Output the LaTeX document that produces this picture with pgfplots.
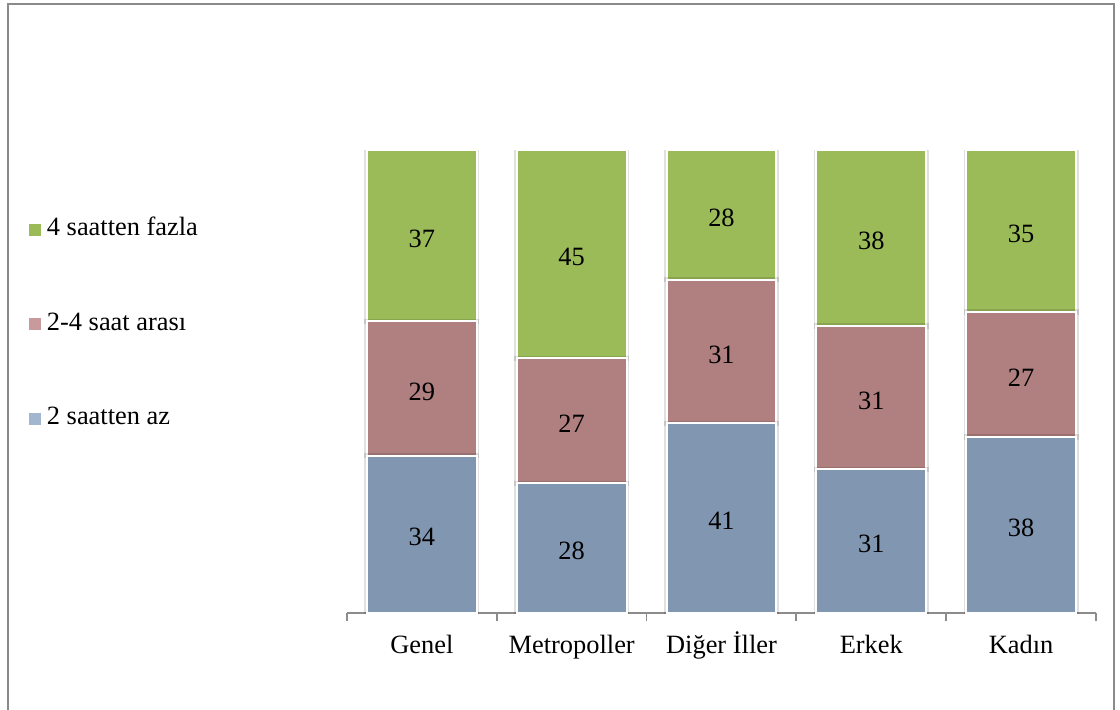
\documentclass[border=0pt]{standalone}
\usepackage{fontspec}
\setmainfont{Liberation Serif}
\usepackage{pgfplots}
\usepackage{pgfplotstable}
\pgfplotsset{compat=1.18}

\definecolor{gBar}{HTML}{9BBB59}
\definecolor{pBar}{HTML}{B07F7F}
\definecolor{bBar}{HTML}{8196B0}
\definecolor{pKey}{HTML}{C99A9B}
\definecolor{bKey}{HTML}{A3B6CF}
\definecolor{frameGray}{HTML}{8A8A8A}
\definecolor{axisGray}{HTML}{8C8C8C}

% daily hours: share of respondents (%), bottom to top
\pgfplotstableread{
x  az  arasi  fazla
0  34  29     37
1  28  27     45
2  41  31     28
3  31  31     38
4  38  27     35
}\hours

\pgfplotsset{
  seg/.style={
    fill=#1, draw=white, line width=1pt,
    preaction={draw=black, draw opacity=0.12, line width=2.6pt},
  },
}

\begin{document}
\fontsize{13.2}{15.8}\selectfont
\begin{tikzpicture}
  \useasboundingbox (0,0) rectangle (560pt,354.5pt);
  \draw[frameGray, line width=1pt] (4pt,-10pt) -- (4pt,352.5pt) -- (557pt,352.5pt) -- (557pt,-10pt);
  \begin{axis}[
    at={(173.5pt,48pt)}, anchor=south west,
    scale only axis, width=374.5pt, height=231.5pt,
    xmin=-0.5, xmax=4.5, ymin=0, ymax=100,
    ybar stacked, bar width=0.734,
    axis x line*=bottom, hide y axis,
    x axis line style={axisGray, line width=0.9pt},
    xtick={0,...,4},
    xticklabels={Genel, Metropoller, Diğer İller, Erkek, Kadın},
    major x tick style={draw=none},
    minor xtick={-0.5,0.5,...,4.5},
    minor x tick style={axisGray, line width=0.9pt},
    minor tick length=4pt,
    tick align=outside,
    xticklabel style={anchor=base, yshift=-16pt},
    point meta=explicit symbolic,
    nodes near coords={\pgfplotspointmeta},
    every node near coord/.append style={anchor=center, text=black, yshift=-1.5pt},
    legend style={draw=none, fill=none, inner sep=0pt, outer sep=0pt,
      at={(-0.4246,0.8534)}, anchor=north west,
      row sep=35.2pt, column sep=3pt,
      nodes={inner sep=0pt, text height=9pt, text depth=3pt}},
    legend cell align=left,
    legend image code/.code={\fill[#1, draw=none] (0pt,-3pt) rectangle (6pt,3pt);},
  ]
    \addplot[seg=bBar, forget plot] table[x=x, y=az, meta=az] {\hours};
    \addplot[seg=pBar, forget plot] table[x=x, y=arasi, meta=arasi] {\hours};
    \addplot[seg=gBar, forget plot] table[x=x, y=fazla, meta=fazla] {\hours};

    \addlegendimage{fill=gBar}
    \addlegendentry{4 saatten fazla}
    \addlegendimage{fill=pKey}
    \addlegendentry{2-4 saat arası}
    \addlegendimage{fill=bKey}
    \addlegendentry{2 saatten az}
  \end{axis}
\end{tikzpicture}
\end{document}
